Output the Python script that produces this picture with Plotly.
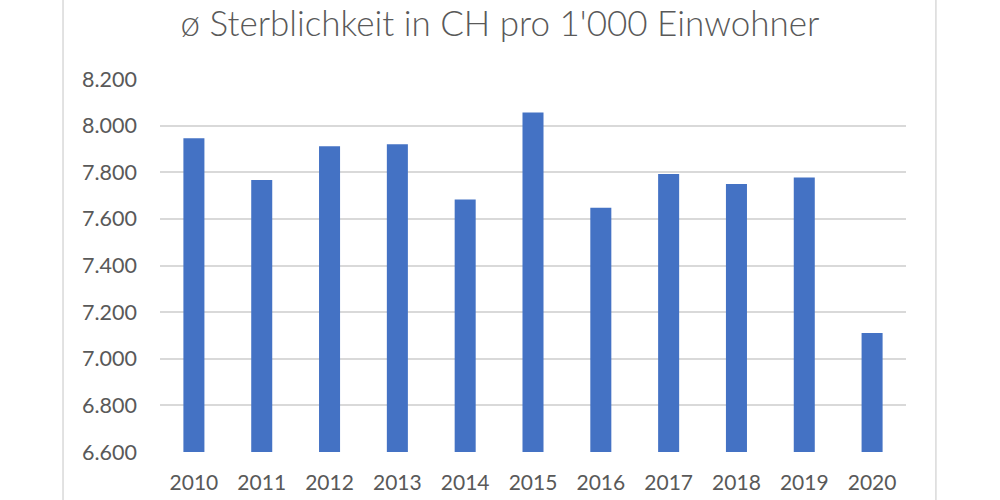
import plotly.graph_objects as go

years = ["2010", "2011", "2012", "2013", "2014", "2015", "2016", "2017", "2018", "2019", "2020"]
rates = [7.946, 7.767, 7.911, 7.920, 7.683, 8.056, 7.648, 7.793, 7.750, 7.777, 7.110]
y_ticks = [6.6, 6.8, 7.0, 7.2, 7.4, 7.6, 7.8, 8.0, 8.2]
title_text = "ø Sterblichkeit in CH pro 1'000 Einwohner"

font_family = "Lato, 'Open Sans', sans-serif"
text_color = "#595959"

fig = go.Figure()
fig.add_trace(go.Bar(x=years, y=rates, marker=dict(color="#4472C4", line=dict(width=0)),
                     width=0.31))

fig.update_layout(
    width=1000, height=500,
    margin=dict(l=160, r=94, t=79, b=48),
    paper_bgcolor="white", plot_bgcolor="white",
    showlegend=False,
    title=dict(text=title_text, x=0.5, xanchor="center", y=0.952, yanchor="middle",
               font=dict(family=font_family, size=35, color=text_color, weight=300)),
    font=dict(family=font_family, color=text_color),
    xaxis=dict(type="category", showgrid=False, showline=False, ticks="", automargin=False,
               tickfont=dict(size=21, color=text_color), ticklabelstandoff=16),
    yaxis=dict(range=[6.6, 8.2], tickvals=y_ticks, tickformat=".3f", automargin=False,
               showgrid=True, gridcolor="#D9D9D9", gridwidth=1.5,
               zeroline=False, showline=False, ticks="",
               tickfont=dict(size=21.5, color=text_color), ticklabelstandoff=22),
    shapes=[
        dict(type="line", xref="paper", yref="paper", x0=-0.1300, x1=-0.1300, y0=-0.2, y1=1.3,
             line=dict(color="#D9D9D9", width=1.5)),
        dict(type="line", xref="paper", yref="paper", x0=1.0401, x1=1.0401, y0=-0.2, y1=1.3,
             line=dict(color="#D9D9D9", width=1.5)),
    ],
)

fig.write_html("out.html", config={"displayModeBar": False},
               post_script="document.body.style.margin='0';")
